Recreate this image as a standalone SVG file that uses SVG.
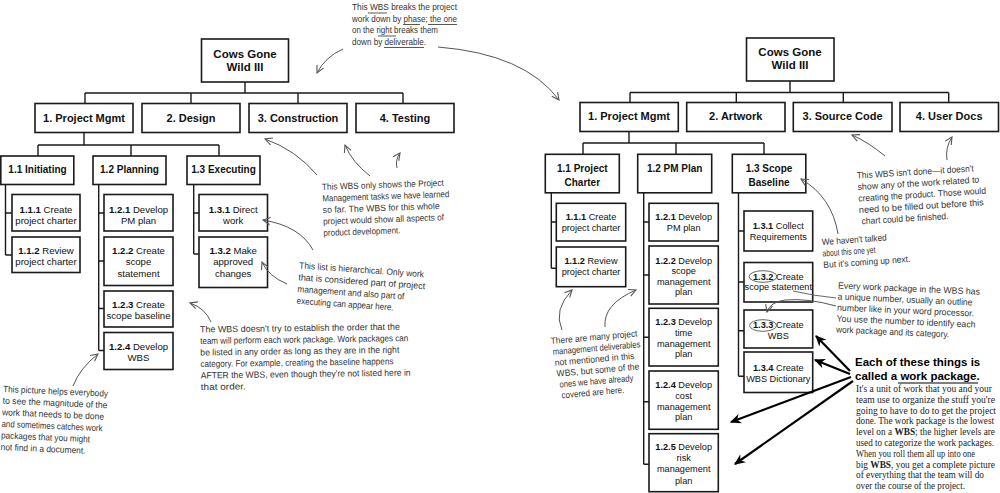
<svg xmlns="http://www.w3.org/2000/svg" width="1000" height="493" viewBox="0 0 1000 493">
<style>
.box{fill:#fff;stroke:#1a1a1a;stroke-width:1.6}
.ln{stroke:#1a1a1a;stroke-width:1.4;fill:none}
.t{font-family:"Liberation Sans",Arial,sans-serif;fill:#111;text-anchor:middle}
.hd{font-weight:bold;font-size:11px}
.rt{font-weight:bold;font-size:11.5px}
.l2{font-weight:bold;font-size:10px}
.lf{font-size:9.6px}
.rf{font-size:9.2px}
.b{font-weight:bold}
.hw{font-family:"Liberation Sans Narrow","Liberation Sans",sans-serif;font-size:9px;fill:#333}
.ha{stroke:#555;stroke-width:1;fill:none;marker-end:url(#open)}
.hl{stroke:#555;stroke-width:0.9;fill:none}
.ul{stroke:#444;stroke-width:0.9;fill:none}
.ba{stroke:#000;stroke-width:2.2;fill:none;marker-end:url(#solid)}
.sf{font-family:"Liberation Serif","Times New Roman",serif;font-size:9.5px;fill:#222}
.bb{font-family:"Liberation Sans",Arial,sans-serif;font-weight:bold;font-size:11.5px;fill:#000}
</style>
<defs>
<marker id="open" viewBox="0 0 10 10" refX="9" refY="5" markerWidth="9" markerHeight="9" markerUnits="userSpaceOnUse" orient="auto"><path d="M1,1 L9,5 L1,9" fill="none" stroke="#555" stroke-width="1.2"/></marker>
<marker id="solid" viewBox="0 0 10 10" refX="9" refY="5" markerWidth="11" markerHeight="11" markerUnits="userSpaceOnUse" orient="auto"><path d="M0,0.5 L10,5 L0,9.5 L3,5 z" fill="#000"/></marker>
</defs>
<rect width="1000" height="493" fill="#fff"/>

<g id="connectors">
<path class="ln" d="M245,82 V93 M85,93 H403 M85,93 V103.5 M191,93 V103.5 M298,93 V103.5 M403,93 V103.5"/>
<path class="ln" d="M84,132.5 V145 M38,145 H219 M38,145 V156 M131,145 V156 M219,145 V156"/>
<path class="ln" d="M5.5,184.5 V255 M5.5,213 H12 M5.5,255 H12"/>
<path class="ln" d="M98.7,184.5 V350.5 M98.7,213 H104 M98.7,261 H104 M98.7,308.5 H104 M98.7,350.5 H104"/>
<path class="ln" d="M193.7,184.5 V254 M193.7,213 H199 M193.7,254 H199"/>
<path class="ln" d="M790,81 V92.5 M630,92.5 H948.7 M630,92.5 V102.5 M736.3,92.5 V102.5 M843.3,92.5 V102.5 M948.7,92.5 V102.5"/>
<path class="ln" d="M629,131.5 V143 M583,143 H764 M583,143 V154.3 M676,143 V154.3 M764,143 V154.3"/>
<path class="ln" d="M551.3,192.8 V268.3 M551.3,222 H556.3 M551.3,268.3 H556.3"/>
<path class="ln" d="M643.7,192.8 V464.3 M643.7,222 H649 M643.7,275 H649 M643.7,337.3 H649 M643.7,401.7 H649 M643.7,464.3 H649"/>
<path class="ln" d="M738.5,192.8 V376.3 M738.5,231 H744 M738.5,282 H744 M738.5,330.7 H744 M738.5,376.3 H744"/>
</g>

<!-- LEFT TREE -->
<g id="L-root"><rect class="box" x="201.5" y="39" width="87" height="43"/><text class="t rt" x="245" y="57.5">Cows Gone</text><text class="t rt" x="245" y="70.5">Wild III</text></g>
<g id="L-1"><rect class="box" x="35" y="103.5" width="98" height="29"/><text class="t hd" x="84" y="121.5">1. Project Mgmt</text></g>
<g id="L-2"><rect class="box" x="142" y="103.5" width="98" height="29"/><text class="t hd" x="191" y="121.5">2. Design</text></g>
<g id="L-3"><rect class="box" x="249" y="103.5" width="98" height="29"/><text class="t hd" x="298" y="121.5">3. Construction</text></g>
<g id="L-4"><rect class="box" x="356" y="103.5" width="98" height="29"/><text class="t hd" x="405" y="121.5">4. Testing</text></g>
<g id="L-1-1"><rect class="box" x="0.8" y="156" width="73" height="28.5"/><text class="t l2" x="37.5" y="173.3">1.1 Initiating</text></g>
<g id="L-1-2"><rect class="box" x="93" y="156" width="73" height="28.5"/><text class="t l2" x="129.5" y="173.3">1.2 Planning</text></g>
<g id="L-1-3"><rect class="box" x="187" y="156" width="73" height="28.5"/><text class="t l2" x="223.5" y="173.3">1.3 Executing</text></g>
<g id="L-1-1-1"><rect class="box" x="12" y="194.5" width="68" height="36.5"/><text class="t lf" x="46" y="212.5"><tspan class="b">1.1.1</tspan> Create</text><text class="t lf" x="46" y="223.8">project charter</text></g>
<g id="L-1-1-2"><rect class="box" x="12" y="237" width="68" height="35.5"/><text class="t lf" x="46" y="253.5"><tspan class="b">1.1.2</tspan> Review</text><text class="t lf" x="46" y="264.5">project charter</text></g>
<g id="L-1-2-1"><rect class="box" x="104" y="194.5" width="69" height="36.5"/><text class="t lf" x="138.5" y="212.5"><tspan class="b">1.2.1</tspan> Develop</text><text class="t lf" x="138.5" y="223.8">PM plan</text></g>
<g id="L-1-2-2"><rect class="box" x="104" y="237" width="69" height="48.5"/><text class="t lf" x="138.5" y="253.5"><tspan class="b">1.2.2</tspan> Create</text><text class="t lf" x="138.5" y="265">scope</text><text class="t lf" x="138.5" y="276.5">statement</text></g>
<g id="L-1-2-3"><rect class="box" x="104" y="291" width="69" height="36"/><text class="t lf" x="138.5" y="308"><tspan class="b">1.2.3</tspan> Create</text><text class="t lf" x="138.5" y="319.3">scope baseline</text></g>
<g id="L-1-2-4"><rect class="box" x="104" y="332.5" width="69" height="37"/><text class="t lf" x="138.5" y="350"><tspan class="b">1.2.4</tspan> Develop</text><text class="t lf" x="138.5" y="361.3">WBS</text></g>
<g id="L-1-3-1"><rect class="box" x="199" y="194.5" width="68.5" height="36.5"/><text class="t lf" x="233.2" y="212.5"><tspan class="b">1.3.1</tspan> Direct</text><text class="t lf" x="233.2" y="223.8">work</text></g>
<g id="L-1-3-2"><rect class="box" x="199" y="237" width="68.5" height="50.5"/><text class="t lf" x="233.2" y="253.5"><tspan class="b">1.3.2</tspan> Make</text><text class="t lf" x="233.2" y="265">approved</text><text class="t lf" x="233.2" y="276.5">changes</text></g>

<!-- RIGHT TREE -->
<g id="R-root"><rect class="box" x="746.5" y="38" width="87.5" height="43"/><text class="t rt" x="790" y="55.8">Cows Gone</text><text class="t rt" x="790" y="69">Wild III</text></g>
<g id="R-1"><rect class="box" x="580" y="102.5" width="98.3" height="29"/><text class="t hd" x="629" y="120.2">1. Project Mgmt</text></g>
<g id="R-2"><rect class="box" x="686.7" y="102.5" width="98.3" height="29"/><text class="t hd" x="735.8" y="120.2">2. Artwork</text></g>
<g id="R-3"><rect class="box" x="793.3" y="102.5" width="98.7" height="29"/><text class="t hd" x="842.6" y="120.2">3. Source Code</text></g>
<g id="R-4"><rect class="box" x="900" y="102.5" width="98.5" height="29"/><text class="t hd" x="949.2" y="120.2">4. User Docs</text></g>
<g id="R-1-1"><rect class="box" x="545.3" y="154.3" width="74" height="38.5"/><text class="t l2" x="582.3" y="172">1.1 Project</text><text class="t l2" x="582.3" y="185.5">Charter</text></g>
<g id="R-1-2"><rect class="box" x="637.7" y="154.3" width="74" height="38.5"/><text class="t l2" x="674.7" y="172">1.2 PM Plan</text></g>
<g id="R-1-3"><rect class="box" x="732.3" y="154.3" width="73.5" height="38.5"/><text class="t l2" x="769" y="172">1.3 Scope</text><text class="t l2" x="769" y="185.5">Baseline</text></g>
<g id="R-1-1-1"><rect class="box" x="556.3" y="203.3" width="69.4" height="37.7"/><text class="t rf" x="591" y="220"><tspan class="b">1.1.1</tspan> Create</text><text class="t rf" x="591" y="231">project charter</text></g>
<g id="R-1-1-2"><rect class="box" x="556.3" y="247" width="69.4" height="39.7"/><text class="t rf" x="591" y="263.5"><tspan class="b">1.1.2</tspan> Review</text><text class="t rf" x="591" y="274.5">project charter</text></g>
<g id="R-1-2-1"><rect class="box" x="649" y="203.3" width="69.3" height="37.7"/><text class="t rf" x="683.7" y="220"><tspan class="b">1.2.1</tspan> Develop</text><text class="t rf" x="683.7" y="231">PM plan</text></g>
<g id="R-1-2-2"><rect class="box" x="649" y="246" width="69.3" height="58"/><text class="t rf" x="683.7" y="263.5"><tspan class="b">1.2.2</tspan> Develop</text><text class="t rf" x="683.7" y="274">scope</text><text class="t rf" x="683.7" y="284.7">management</text><text class="t rf" x="683.7" y="295.3">plan</text></g>
<g id="R-1-2-3"><rect class="box" x="649" y="308.3" width="69.3" height="57.7"/><text class="t rf" x="683.7" y="325"><tspan class="b">1.2.3</tspan> Develop</text><text class="t rf" x="683.7" y="336">time</text><text class="t rf" x="683.7" y="346.7">management</text><text class="t rf" x="683.7" y="357.4">plan</text></g>
<g id="R-1-2-4"><rect class="box" x="649" y="371" width="69.3" height="58.3"/><text class="t rf" x="683.7" y="388"><tspan class="b">1.2.4</tspan> Develop</text><text class="t rf" x="683.7" y="399">cost</text><text class="t rf" x="683.7" y="409.5">management</text><text class="t rf" x="683.7" y="420">plan</text></g>
<g id="R-1-2-5"><rect class="box" x="649" y="433.7" width="69.3" height="58"/><text class="t rf" x="683.7" y="450"><tspan class="b">1.2.5</tspan> Develop</text><text class="t rf" x="683.7" y="461">risk</text><text class="t rf" x="683.7" y="472">management</text><text class="t rf" x="683.7" y="483.5">plan</text></g>
<g id="R-1-3-1"><rect class="box" x="744" y="211" width="68.7" height="40"/><text class="t rf" x="778.3" y="228.5"><tspan class="b">1.3.1</tspan> Collect</text><text class="t rf" x="778.3" y="239.5">Requirements</text></g>
<g id="R-1-3-2"><rect class="box" x="744" y="262.5" width="68.7" height="39.5"/><text class="t rf" x="778.3" y="279.5"><tspan class="b">1.3.2</tspan> Create</text><text class="t rf" x="778.3" y="290.3">scope statement</text></g>
<g id="R-1-3-3"><rect class="box" x="744" y="310" width="68.7" height="38"/><text class="t rf" x="778.3" y="327.5"><tspan class="b">1.3.3</tspan> Create</text><text class="t rf" x="778.3" y="338.5">WBS</text></g>
<g id="R-1-3-4"><rect class="box" x="744" y="352" width="68.7" height="40.5"/><text class="t rf" x="778.3" y="370.5"><tspan class="b">1.3.4</tspan> Create</text><text class="t rf" x="778.3" y="381.5">WBS Dictionary</text></g>

<!-- ANNOTATIONS -->
<g id="note-phase" class="hw">
<text x="352" y="10" textLength="105" lengthAdjust="spacingAndGlyphs">This WBS breaks the project</text>
<text x="352" y="21.5" textLength="105" lengthAdjust="spacingAndGlyphs">work down by phase; the one</text>
<text x="352" y="33" textLength="86" lengthAdjust="spacingAndGlyphs">on the right breaks them</text>
<text x="352" y="44.5" textLength="74" lengthAdjust="spacingAndGlyphs">down by deliverable.</text>
<path class="ul" d="M368,13 H387 M403,24.5 H420 M428,24.5 H457 M378,36 H396 M384,47.5 H424"/>
<path class="ha" d="M343,49 Q325,57 317,73"/>
<path class="ha" d="M438,47 Q525,54 559,100"/>
</g>

<g id="note-pm-only" class="hw">
<g transform="rotate(-2 322 190)">
<text x="322" y="190" textLength="122" lengthAdjust="spacingAndGlyphs">This WBS only shows the Project</text>
<text x="322" y="201.5" textLength="127" lengthAdjust="spacingAndGlyphs">Management tasks we have learned</text>
<text x="322" y="213" textLength="117" lengthAdjust="spacingAndGlyphs">so far. The WBS for this whole</text>
<text x="322" y="224.5" textLength="121" lengthAdjust="spacingAndGlyphs">project would show all aspects of</text>
<text x="322" y="236" textLength="77" lengthAdjust="spacingAndGlyphs">product development.</text>
</g>
<path class="ha" d="M317,175 Q296,150 265,139"/>
<path class="ha" d="M370,176 Q352,162 345,145"/>
<path class="ha" d="M397,168 Q395,160 400,153"/>
</g>

<g id="note-hierarchical" class="hw">
<g transform="rotate(4 299 268.5)">
<text x="299" y="268.5" textLength="125" lengthAdjust="spacingAndGlyphs">This list is hierarchical. Only work</text>
<text x="299" y="280.3" textLength="127" lengthAdjust="spacingAndGlyphs">that is considered part of project</text>
<text x="299" y="292.1" textLength="107" lengthAdjust="spacingAndGlyphs">management and also part of</text>
<text x="299" y="303.9" textLength="97" lengthAdjust="spacingAndGlyphs">executing can appear here.</text>
</g>
<path class="ha" d="M313,250 Q300,226 263,220"/>
<path class="ha" d="M287,284 Q268,276 262,262"/>
</g>

<g id="note-order" class="hw">
<g transform="rotate(-0.8 200 332.5)">
<text x="200" y="332.5" textLength="200" lengthAdjust="spacingAndGlyphs">The WBS doesn't try to establish the order that the</text>
<text x="200" y="344" textLength="208" lengthAdjust="spacingAndGlyphs">team will perform each work package. Work packages can</text>
<text x="200" y="355.5" textLength="199" lengthAdjust="spacingAndGlyphs">be listed in any order as long as they are in the right</text>
<text x="200" y="367" textLength="193" lengthAdjust="spacingAndGlyphs">category. For example, creating the baseline happens</text>
<text x="200" y="378.5" textLength="210" lengthAdjust="spacingAndGlyphs">AFTER the WBS, even though they're not listed here in</text>
<text x="200" y="390" textLength="45" lengthAdjust="spacingAndGlyphs">that order.</text>
</g>
<path class="ha" d="M211,322 Q205,308 190,303"/>
</g>

<g id="note-picture" class="hw">
<g transform="rotate(2.5 3 392)">
<text x="3" y="392" textLength="105" lengthAdjust="spacingAndGlyphs">This picture helps everybody</text>
<text x="3" y="403.6" textLength="105" lengthAdjust="spacingAndGlyphs">to see the magnitude of the</text>
<text x="3" y="415.2" textLength="102" lengthAdjust="spacingAndGlyphs">work that needs to be done</text>
<text x="3" y="426.8" textLength="101" lengthAdjust="spacingAndGlyphs">and sometimes catches work</text>
<text x="3" y="438.4" textLength="89" lengthAdjust="spacingAndGlyphs">packages that you might</text>
<text x="3" y="450" textLength="85" lengthAdjust="spacingAndGlyphs">not find in a document.</text>
</g>
<path class="ha" d="M73,386 Q80,368 98,354"/>
</g>

<g id="note-deliverables" class="hw">
<g transform="rotate(-5 551 344)">
<text x="551" y="344" textLength="87" lengthAdjust="spacingAndGlyphs">There are many project</text>
<text x="552" y="355" textLength="88" lengthAdjust="spacingAndGlyphs">management deliverables</text>
<text x="553" y="366" textLength="80" lengthAdjust="spacingAndGlyphs">not mentioned in this</text>
<text x="554" y="377" textLength="83" lengthAdjust="spacingAndGlyphs">WBS, but some of the</text>
<text x="556" y="388" textLength="74" lengthAdjust="spacingAndGlyphs">ones we have already</text>
<text x="557" y="399" textLength="63" lengthAdjust="spacingAndGlyphs">covered are here.</text>
</g>
<path class="ha" d="M562,330 Q553,310 572,290"/>
<path class="ha" d="M605,327 Q603,304 636,290"/>
</g>

<g id="note-not-done" class="hw">
<g transform="rotate(-3.5 857 178.5)">
<text x="857" y="178.5" textLength="117" lengthAdjust="spacingAndGlyphs">This WBS isn't done—it doesn't</text>
<text x="857" y="190" textLength="122" lengthAdjust="spacingAndGlyphs">show any of the work related to</text>
<text x="857" y="201.5" textLength="128" lengthAdjust="spacingAndGlyphs">creating the product. Those would</text>
<text x="857" y="213" textLength="125" lengthAdjust="spacingAndGlyphs">need to be filled out before this</text>
<text x="859" y="224.5" textLength="87" lengthAdjust="spacingAndGlyphs">chart could be finished.</text>
</g>
<path class="ha" d="M885,156 Q868,142 852,135"/>
<path class="ha" d="M947,160 Q945,148 952,137"/>
</g>

<g id="note-not-yet" class="hw">
<g transform="rotate(-4 822 245)">
<text x="822" y="245" textLength="65" lengthAdjust="spacingAndGlyphs">We haven't talked</text>
<text x="822" y="256.5" textLength="53" lengthAdjust="spacingAndGlyphs">about this one yet</text>
<text x="822" y="268" textLength="87" lengthAdjust="spacingAndGlyphs">But it's coming up next.</text>
</g>
<path class="ha" d="M838,234 Q832,197 801,179"/>
</g>

<g id="note-number" class="hw">
<g transform="rotate(2.5 838 288.5)">
<text x="838" y="288.5" textLength="142" lengthAdjust="spacingAndGlyphs">Every work package in the WBS has</text>
<text x="838" y="299.5" textLength="135" lengthAdjust="spacingAndGlyphs">a unique number, usually an outline</text>
<text x="838" y="310.5" textLength="137" lengthAdjust="spacingAndGlyphs">number like in your word processor.</text>
<text x="838" y="321.5" textLength="139" lengthAdjust="spacingAndGlyphs">You use the number to identify each</text>
<text x="838" y="332.5" textLength="113" lengthAdjust="spacingAndGlyphs">work package and its category.</text>
</g>
<ellipse class="hl" cx="763" cy="276.5" rx="14" ry="5.8"/>
<ellipse class="hl" cx="763" cy="325.5" rx="13.5" ry="5.8"/>
<path class="hl" d="M836,298 Q815,296 793,291"/>
<path class="ha" d="M836,306 Q808,298 785,300 Q770,302 767,312"/>
</g>

<g id="note-work-package">
<text class="bb" x="855" y="366">Each of these things is</text>
<text class="bb" x="855" y="380">called a work package.</text>
<path d="M898,383 H978" stroke="#000" stroke-width="1.2"/>
<path class="ba" d="M850,371 L816,336"/>
<path class="ba" d="M850,374 L815,360"/>
<path class="ba" d="M851,377 L731,422"/>
<path class="ba" d="M853,381 L735,464"/>
<text class="sf" x="856" y="392" textLength="136" lengthAdjust="spacingAndGlyphs">It's a unit of work that you and your</text>
<text class="sf" x="856" y="402.8" textLength="139" lengthAdjust="spacingAndGlyphs">team use to organize the stuff you're</text>
<text class="sf" x="856" y="413.6" textLength="140" lengthAdjust="spacingAndGlyphs">going to have to do to get the project</text>
<text class="sf" x="856" y="424.4" textLength="138" lengthAdjust="spacingAndGlyphs">done. The work package is the lowest</text>
<text class="sf" x="856" y="435.2" textLength="139" lengthAdjust="spacingAndGlyphs">level on a <tspan font-weight="bold">WBS</tspan>; the higher levels are</text>
<text class="sf" x="856" y="446" textLength="138" lengthAdjust="spacingAndGlyphs">used to categorize the work packages.</text>
<text class="sf" x="856" y="456.8" textLength="119" lengthAdjust="spacingAndGlyphs">When you roll them all up into one</text>
<text class="sf" x="856" y="467.6" textLength="139" lengthAdjust="spacingAndGlyphs">big <tspan font-weight="bold">WBS</tspan>, you get a complete picture</text>
<text class="sf" x="856" y="478.4" textLength="128" lengthAdjust="spacingAndGlyphs">of everything that the team will do</text>
<text class="sf" x="856" y="489.2" textLength="109" lengthAdjust="spacingAndGlyphs">over the course of the project.</text>
</g>
</svg>
